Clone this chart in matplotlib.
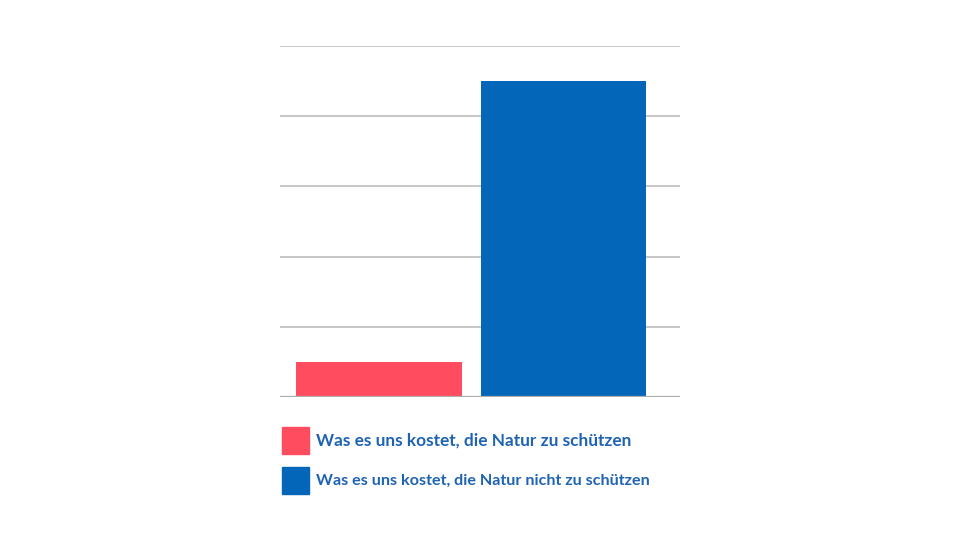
import matplotlib
matplotlib.use('Agg')
import matplotlib.pyplot as plt
import matplotlib.patches as mpatches

# Data
categories = ["Was es uns kostet, die Natur zu schützen",
              "Was es uns kostet, die Natur nicht zu schützen"]
values = [1, 9]
colors = ["#FF4D5F", "#0366B8"]
text_color = "#1F63B3"
label_sizes = [12.45, 11.6]  # second label is rendered a bit smaller in the original

W, H = 960, 540
fig = plt.figure(figsize=(9.6, 5.4), dpi=100)
ax = fig.add_axes([280 / W, 1 - 397 / H, 400 / W, 351 / H])

positions = list(range(len(values)))
ax.bar(positions, values, width=0.897, color=colors, zorder=3)

ax.set_ylim(0, 10)
ax.set_xlim(-0.538, 1.634)
ax.set_yticks([0, 2, 4, 6, 8, 10])
ax.yaxis.grid(True, color="#BDBDBD", linewidth=1.2)
ax.set_axisbelow(True)
ax.tick_params(left=False, bottom=False, labelleft=False, labelbottom=False)
for s in ax.spines.values():
    s.set_visible(False)
ax.axhline(0, color="#AFAFAF", linewidth=1.6, zorder=4)

# Legend drawn by hand: square swatch + bold label per row
row_top = 427
row_step = 40
box = 27
for i, (c, label) in enumerate(zip(colors, categories)):
    top = row_top + i * row_step
    fig.patches.append(mpatches.Rectangle((282 / W, 1 - (top + box) / H), box / W, box / H,
                                          transform=fig.transFigure, color=c))
    fig.text(316 / W, 1 - (top + box / 2 + 0.5) / H, label, ha="left", va="center",
             color=text_color, family="Lato", weight="bold", fontsize=label_sizes[i])

fig.savefig("out.png", dpi=100)
